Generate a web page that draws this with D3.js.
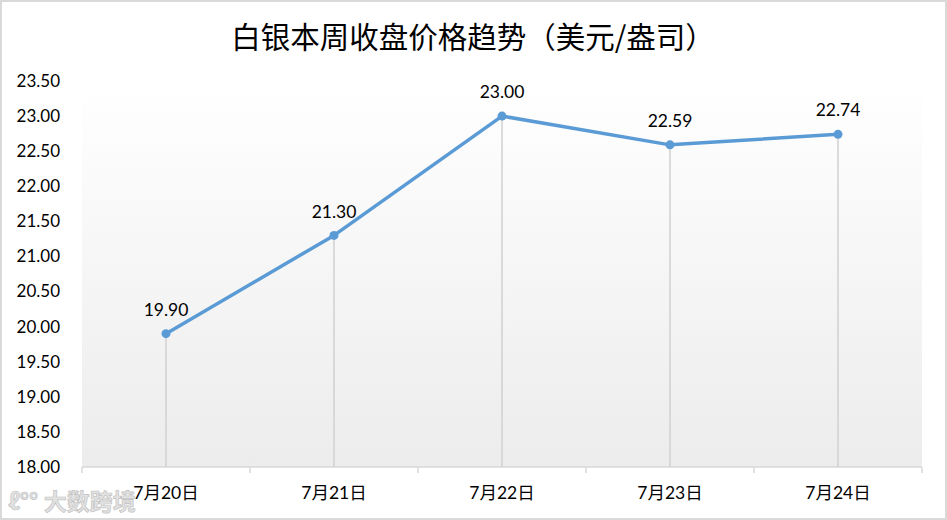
<!DOCTYPE html>
<html><head><meta charset="utf-8">
<script src="https://cdn.jsdelivr.net/npm/d3@7"></script>
<style>body{margin:0;background:#fff}svg{display:block}</style>
</head><body>
<script>
const categories = ["7月20日","7月21日","7月22日","7月23日","7月24日"];
const prices = [19.90, 21.30, 23.00, 22.59, 22.74];
const yTicks = [18.0,18.5,19.0,19.5,20.0,20.5,21.0,21.5,22.0,22.5,23.0,23.5];
const title = "白银本周收盘价格趋势（美元/盎司）";

const W = 947, H = 520;
const m = {left: 82, right: 25, top: 81, bottom: 53};
const svg = d3.select("body").append("svg").attr("width", W).attr("height", H);
const font = "Lato, 'Noto Sans CJK SC', sans-serif";

svg.append("rect").attr("x",1).attr("y",1).attr("width",W-2).attr("height",H-2)
  .attr("fill","#fff").attr("stroke","#d9d9d9").attr("stroke-width",2);

const x = d3.scaleBand().domain(categories).range([m.left, W - m.right]);
const y = d3.scaleLinear().domain([18, 23.5]).range([H - m.bottom, m.top]);

const defs = svg.append("defs");
const g = defs.append("linearGradient").attr("id","bg").attr("x1",0).attr("y1",0).attr("x2",0).attr("y2",1);
g.append("stop").attr("offset","0%").attr("stop-color","#ffffff");
g.append("stop").attr("offset","100%").attr("stop-color","#ececec");

svg.append("rect").attr("x", m.left).attr("y", m.top)
  .attr("width", W - m.right - m.left).attr("height", H - m.bottom - m.top)
  .attr("fill","url(#bg)");

svg.append("text").attr("x", 473).attr("y", 48).attr("text-anchor","middle")
  .attr("font-family","'Noto Sans CJK SC', sans-serif").attr("font-size",29.5).attr("fill","#000")
  .text(title);

// y axis labels
svg.append("g").selectAll("text").data(yTicks).join("text")
  .attr("x", 60).attr("y", d => y(d)).attr("dy","0.35em").attr("text-anchor","end")
  .attr("font-family", font).attr("font-size", 17).attr("fill","#000")
  .text(d => d.toFixed(2));

// x axis
const ax = svg.append("g").attr("transform",`translate(0,${y(18)})`);
ax.append("line").attr("x1", m.left).attr("x2", W - m.right).attr("stroke","#d9d9d9").attr("stroke-width",1.5);
const bounds = categories.map(c => x(c)).concat([x(categories[categories.length-1]) + x.bandwidth()]);
ax.selectAll("line.tk").data(bounds).join("line").attr("class","tk")
  .attr("x1", d => d).attr("x2", d => d).attr("y1", 0).attr("y2", 6)
  .attr("stroke","#d9d9d9").attr("stroke-width",1.5);
ax.selectAll("text").data(categories).join("text")
  .attr("x", d => x(d) + x.bandwidth()/2).attr("y", 26).attr("dy","0.35em")
  .attr("text-anchor","middle").attr("font-family", font).attr("font-size", 17.5).attr("fill","#000")
  .text(d => d);

const cx = d => x(d) + x.bandwidth()/2;
// drop lines
svg.append("g").selectAll("line").data(categories).join("line")
  .attr("x1", cx).attr("x2", cx).attr("y1", (d,i) => y(prices[i])).attr("y2", y(18))
  .attr("stroke","#d0d0d0").attr("stroke-width",1.5);

const line = d3.line().x((d,i) => cx(categories[i])).y(d => y(d));
svg.append("path").datum(prices).attr("d", line).attr("fill","none")
  .attr("stroke","#5b9bd5").attr("stroke-width",3.5).attr("stroke-linejoin","round");
svg.append("g").selectAll("circle").data(prices).join("circle")
  .attr("cx", (d,i) => cx(categories[i])).attr("cy", d => y(d)).attr("r", 4.5).attr("fill","#5b9bd5");
svg.append("g").selectAll("text").data(prices).join("text")
  .attr("x", (d,i) => cx(categories[i])).attr("y", d => y(d) - 24).attr("dy","0.35em")
  .attr("text-anchor","middle").attr("font-family", font).attr("font-size", 17.5).attr("fill","#000")
  .text(d => d.toFixed(2));

// watermark
const wm = svg.append("g").attr("opacity",0.6);
wm.append("text").attr("x", 8).attr("y", 510).attr("font-family","'Noto Sans CJK SC', sans-serif")
  .attr("font-size", 23).attr("font-weight","bold").attr("fill","#d0d0d0").attr("stroke","#9a9a9a").attr("stroke-width",0.7)
  .text("ℓ°° 大数跨境");
</script>
</body></html>
